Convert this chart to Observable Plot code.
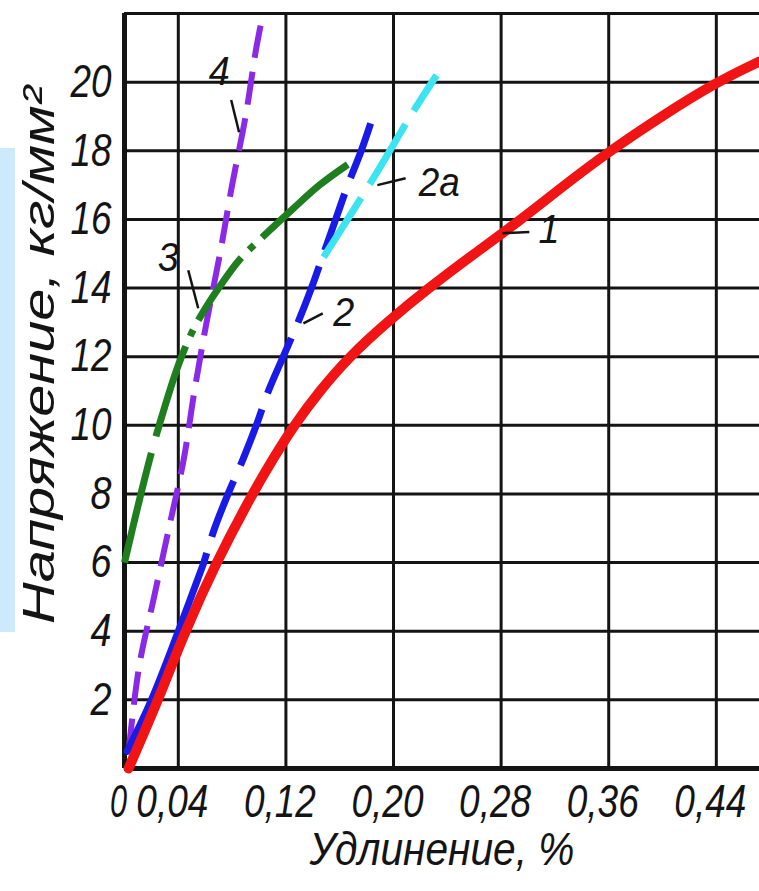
<!DOCTYPE html>
<html><head><meta charset="utf-8">
<script src="https://cdn.jsdelivr.net/npm/d3@7"></script>
<script src="https://cdn.jsdelivr.net/npm/@observablehq/plot@0.6"></script>
<style>
html,body{margin:0;padding:0;background:#fff;}
#wrap{position:relative;width:759px;height:891px;overflow:hidden;}
#band{position:absolute;left:0;top:148px;width:15px;height:484px;background:#cde9fc;}
</style></head>
<body><div id="wrap"><div id="chart"></div><div id="band"></div></div>
<script>
// Tick values
const xTicks = [0, 0.04, 0.12, 0.20, 0.28, 0.36, 0.44];
const yTicks = [2, 4, 6, 8, 10, 12, 14, 16, 18, 20];

// Curves: [elongation %, stress kg/mm²]
const curve1 = [[0.003,0],[0.014,1],[0.025,2],[0.045,4],[0.068,6],[0.095,8],[0.110,9],[0.126,10],[0.145,11],[0.167,12],[0.195,13],[0.226,14],[0.260,15],[0.295,16],[0.327,17],[0.361,18],[0.399,19],[0.44,20],[0.472,20.6]];
const curve2 = [[0.002,0.5],[0.020,2],[0.040,4],[0.059,6],[0.067,7],[0.077,8],[0.088,9],[0.098,10],[0.107,11],[0.118,12],[0.129,13],[0.139,14],[0.148,15],[0.157,16],[0.166,17],[0.176,18],[0.183,18.8]];
const curve2a = [[0.148,14.9],[0.185,17.2],[0.214,19.1],[0.232,20.2]];
const curve3 = [[0,6],[0.01,7.65],[0.02,9.2],[0.03,10.55],[0.04,11.75],[0.05,12.7],[0.06,13.4],[0.07,14.0],[0.085,14.8],[0.103,15.5],[0.125,16.3],[0.145,17.0],[0.166,17.6]];
const curve4 = [[0.003,0.5],[0.011,3],[0.022,5],[0.033,7],[0.044,9],[0.052,11],[0.061,13],[0.071,15],[0.080,17],[0.090,19],[0.098,21],[0.103,22]];

// Curve labels and their leader lines
const curveLabels = [
  {text: "4", x: 0.0704, y: 20.3},
  {text: "3", x: 0.0326, y: 14.87},
  {text: "2", x: 0.163, y: 13.27},
  {text: "2а", x: 0.234, y: 17.06},
  {text: "1", x: 0.3156, y: 15.69}
];
const leaders = [
  {x1: 0.0793, y1: 19.48, x2: 0.0852, y2: 18.54},
  {x1: 0.0474, y1: 14.52, x2: 0.0548, y2: 13.41},
  {x1: 0.133, y1: 12.97, x2: 0.1474, y2: 13.26},
  {x1: 0.188, y1: 17.0, x2: 0.209, y2: 17.2},
  {x1: 0.281, y1: 15.6, x2: 0.301, y2: 15.63}
];

const yTitle = "Напряжение, кг/мм²";
const xTitle = "Удлинение, %";

const rows = pts => pts.map(([x, y]) => ({x, y}));
const fmtX = d => d === 0 ? "0" : d.toFixed(2).replace(".", ",");
const FONT = "'Liberation Sans', Arial, 'DejaVu Sans', sans-serif";
const INK = "#141414";

const blueSolid = rows(curve2.filter(([x, y]) => y <= 6));
const blueDash = rows(curve2.filter(([x, y]) => y >= 6));

const plot = Plot.plot({
  width: 759, height: 891,
  marginLeft: 124, marginRight: 0, marginTop: 13, marginBottom: 123,
  x: {domain: [0, 0.4721]},
  y: {domain: [0, 22]},
  style: {fontFamily: FONT, fontStyle: "italic", fontSize: "46px", background: "transparent", color: INK, overflow: "visible"},
  marks: [
    Plot.gridX(xTicks.slice(1), {stroke: INK, strokeOpacity: 1, strokeWidth: 3}),
    Plot.gridY(yTicks, {stroke: INK, strokeOpacity: 1, strokeWidth: 3}),
    Plot.ruleY([22], {stroke: INK, strokeWidth: 3}),
    Plot.ruleX([0], {stroke: INK, strokeWidth: 5}),
    Plot.ruleY([0], {stroke: INK, strokeWidth: 5}),
    Plot.axisX({ticks: xTicks, tickFormat: fmtX, tickSize: 0, tickPadding: 16, dx: -6, fontSize: 46, label: null}),
    Plot.axisY({ticks: yTicks, tickFormat: d => String(d), tickSize: 0, tickPadding: 13, fontSize: 46, label: null}),
    Plot.line(rows(curve4), {x: "x", y: "y", stroke: "#8a2ae6", strokeWidth: 6, strokeDasharray: "33 14", strokeLinecap: "butt", curve: "catmull-rom"}),
    Plot.line(blueSolid, {x: "x", y: "y", stroke: "#1a1ae6", strokeWidth: 7, curve: "catmull-rom"}),
    Plot.line(blueDash, {x: "x", y: "y", stroke: "#1a1ae6", strokeWidth: 7, strokeDasharray: "60 17", strokeDashoffset: 50, strokeLinecap: "butt", curve: "catmull-rom"}),
    Plot.line(rows(curve2a), {x: "x", y: "y", stroke: "#3ce3f0", strokeWidth: 7, strokeDasharray: "70 16", strokeLinecap: "butt", curve: "catmull-rom"}),
    Plot.line(rows(curve3), {x: "x", y: "y", stroke: "#1f7f1f", strokeWidth: 7, strokeDasharray: "113 17 95 11 7 11 76 11 7 11 300 0", strokeLinecap: "butt", curve: "catmull-rom"}),
    Plot.line(rows(curve1), {x: "x", y: "y", stroke: "#f01414", strokeWidth: 10, curve: "basis"}),
    Plot.link(leaders, {x1: "x1", y1: "y1", x2: "x2", y2: "y2", stroke: INK, strokeWidth: 2.5}),
    Plot.text(curveLabels, {x: "x", y: "y", text: "text", fontSize: 40, fill: INK}),
    Plot.text([yTitle], {text: d => d, frameAnchor: "left", textAnchor: "middle", rotate: -90, dx: -85, dy: -36, fontSize: 45, fill: INK}),
    Plot.text([xTitle], {text: d => d, frameAnchor: "bottom", textAnchor: "middle", dy: 96, fontSize: 46, fill: INK})
  ]
});

document.getElementById("chart").appendChild(plot);

// Condense the lettering to the narrow drafting style of the original
const widthFor = s => {
  if (s === yTitle) return 538;
  if (s === xTitle) return 265;
  if (/^0,\d\d$/.test(s)) return 72;
  if (s === "0") return 17;
  if (/^\d$/.test(s)) return 21;
  if (/^\d\d$/.test(s) || s === "2а") return 41;
  return null;
};
d3.select(plot).selectAll("text").each(function() {
  const w = widthFor(this.textContent);
  if (w) d3.select(this).attr("textLength", w).attr("lengthAdjust", "spacingAndGlyphs");
});
</script>
</body></html>
